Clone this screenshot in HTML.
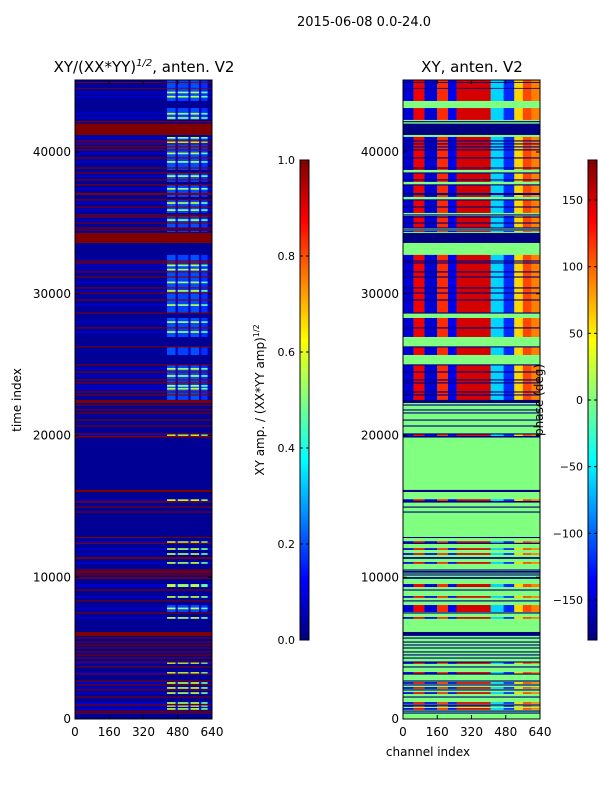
<!DOCTYPE html>
<html><head><meta charset="utf-8">
<style>
html,body{margin:0;padding:0;background:#fff;}
svg{display:block;font-family:"DejaVu Sans","Liberation Sans",sans-serif;}
</style></head>
<body>
<svg id="fig" width="600" height="800" viewBox="0 0 600 800">
  <text x="364" y="26" font-size="13" text-anchor="middle">2015-06-08 0.0-24.0</text>
  <text x="144" y="72" font-size="15" text-anchor="middle">XY/(XX*YY)<tspan dy="-6" font-size="10" font-style="italic">1/2</tspan><tspan dy="6">, anten. V2</tspan></text>
  <text x="472" y="72" font-size="15" text-anchor="middle">XY, anten. V2</text>
  <text transform="translate(21,400) rotate(-90)" font-size="12" text-anchor="middle">time index</text>
  <text x="428" y="756" font-size="12" text-anchor="middle">channel index</text>
  <text transform="translate(264,400) rotate(-90)" font-size="12" text-anchor="middle">XY amp. / (XX*YY amp)<tspan dy="-5" font-size="8">1/2</tspan></text>
  <g id="leftPanel"></g>
  <g id="rightPanel"></g>
  <g id="axes"></g>
  <g id="cbars"></g>
  <text transform="translate(543,400) rotate(-90)" font-size="12" text-anchor="middle">phase (deg)</text>
</svg>
<script>
// ---- data ----
const xTicks = [0, 160, 320, 480, 640];
const yTicks = [0, 10000, 20000, 30000, 40000];
const ampTicks = [0.0, 0.2, 0.4, 0.6, 0.8, 1.0];
const phaseTicks = [-150, -100, -50, 0, 50, 100, 150];
// row bands [startTime, endTime, type]  F=flagged, Q=quiet, d=data(dim), D=data(bright)
const rowBands = [
  [42260,45080,'d'],[43100,43600,'Q'],[44880,44940,'F'],[44470,44520,'F'],
  [42180,42260,'Q'],[42100,42180,'F'],[41200,42000,'F'],[41060,41200,'Q'],
  [34360,41060,'d'],[38520,38730,'Q'],[37680,37890,'Q'],[36620,36830,'Q'],[35490,35700,'Q'],[34430,34640,'Q'],
  [36970,37110,'F'],[34290,34360,'Q'],[33580,34290,'F'],[32740,33580,'Q'],
  [22290,32740,'d'],[28290,28640,'Q'],[26250,26950,'Q'],[24980,25680,'Q'],
  [22290,22510,'F'],[19900,22290,'Q'],[19850,19970,'F'],[16160,19850,'Q'],
  [16010,16160,'F'],[15500,16010,'Q'],[15260,15380,'F'],[12840,15260,'Q'],
  [12760,12840,'F'],[6980,12760,'Q'],[9310,9520,'D'],[7550,8040,'d'],
  [11300,11420,'F'],[9890,10010,'F'],[6140,6980,'Q'],[5860,6140,'F'],[0,5860,'Q']
];
const flagLines = [40780,40570,40360,40150,39580,38870,38520,38030,37680,36620,36120,35560,35410,34990,34640,34500,
  32310,32170,31540,31180,30410,30050,29560,28640,27590,26250,24980,24480,23920,23710,23070,22860,
  22150,21800,21590,21090,20670,20110,14950,14600,12390,10510,10400,10300,10160,9100,8330,7480,
  5710,5430,5220,5010,4730,4520,4300,4020,3670,3170,2680,2400,2050,1550,990,560,420];
const dataLines = [44200,43900,42700,42400,41000,40700,39900,39300,38300,37400,36400,35900,35200,
  32000,31700,30800,30200,29200,28000,27300,24700,24200,23500,23300,20030,15440,
  12480,11990,11640,11010,8610,7800,7130,3950,3250,2540,2190,1830,1130,920,710];
// channel segments [startChannel, endChannel]
const ampSegStart = [0, 420, 430, 470, 480, 530, 540, 580, 590, 620];
const ampSegEnd   = [420, 430, 470, 480, 530, 540, 580, 590, 620, 640];
const ampSegValue = [0.06, 0.08, 0.45, 0.12, 0.42, 0.12, 0.45, 0.12, 0.38, 0.08];
const phaseSegStart = [0, 50, 100, 160, 210, 250, 410, 470, 520, 560, 600];
const phaseSegEnd   = [50, 100, 160, 210, 250, 410, 470, 520, 560, 600, 640];
const phaseSegValue = [-150, 140, -150, 120, -140, 150, -60, -120, 60, 110, 90];

// ---- helpers ----
const NS = 'http://www.w3.org/2000/svg';
const T_MAX = 45080;
const plotTop = 80, plotBottom = 719;
const ty = t => plotBottom - t * (plotBottom - 152) / 40000;
const leftX0 = 75, rightX0 = 403, plotW = 137;
const cxL = c => leftX0 + c / 640 * plotW;
const cxR = c => rightX0 + c / 640 * plotW;
function jet(v){
  v = Math.max(0, Math.min(1, v));
  const cl = x => Math.round(255 * Math.max(0, Math.min(1, x)));
  return `rgb(${cl(1.5-Math.abs(4*v-3))},${cl(1.5-Math.abs(4*v-2))},${cl(1.5-Math.abs(4*v-1))})`;
}
const pv = p => (p + 180) / 360;
function mk(tag, attrs, parent){
  const e = document.createElementNS(NS, tag);
  for (const k in attrs) e.setAttribute(k, attrs[k]);
  parent.appendChild(e);
  return e;
}
const L = document.getElementById('leftPanel');
const R = document.getElementById('rightPanel');

let bgL = mk('rect', {x:leftX0, y:ty(T_MAX), width:plotW, height:ty(0)-ty(T_MAX), fill:jet(0.02)}, L);


let bgR = mk('rect', {x:rightX0, y:ty(T_MAX), width:plotW, height:ty(0)-ty(T_MAX), fill:jet(0.5)}, R);



function drawBand(t0, t1, type){
  const y = ty(t1), h = Math.max(0.8, ty(t0) - ty(t1));
  if (type === 'F' || type === 'Q'){
    const a = mk('rect', {x:leftX0, y:y, width:plotW, height:h, fill: type==='F'?jet(1):jet(0.02)}, L);
    
    
    const b = mk('rect', {x:rightX0, y:y, width:plotW, height:h, fill: type==='F'?jet(0):jet(0.5)}, R);
    
    
  } else {
    const level = type === 'D' ? 1.25 : 0.45;
    for (let i = 0; i < ampSegStart.length; i++){
      const c = mk('rect', {x:cxL(ampSegStart[i]), y:y, width:cxL(ampSegEnd[i])-cxL(ampSegStart[i]), height:h, fill:jet(ampSegValue[i]*level)}, L);
      
      
    }
    for (let i = 0; i < phaseSegStart.length; i++){
      const c = mk('rect', {x:cxR(phaseSegStart[i]), y:y, width:cxR(phaseSegEnd[i])-cxR(phaseSegStart[i]), height:h, fill:jet(pv(phaseSegValue[i]))}, R);
      
      
    }
  }
}
rowBands.forEach(b => drawBand(b[0], b[1], b[2]));
dataLines.forEach(t => drawBand(t-60, t+60, 'D'));
flagLines.forEach(t => drawBand(t-40, t+40, 'F'));

// axes
const A = document.getElementById('axes');
[leftX0, rightX0].forEach((x0, pi) => {
  const fr = mk('rect', {x:x0, y:plotTop, width:plotW, height:plotBottom-plotTop, fill:'none', stroke:'#000', 'stroke-width':1}, A);
  
  
  xTicks.forEach(v => {
    const x = x0 + v/640*plotW;
    mk('line', {x1:x, x2:x, y1:plotBottom, y2:plotBottom-4, stroke:'#000'}, A);
    mk('line', {x1:x, x2:x, y1:plotTop, y2:plotTop+4, stroke:'#000'}, A);
    const tl = mk('text', {x:x, y:plotBottom+17, 'font-size':12, 'text-anchor':'middle'}, A);
    tl.textContent = v;
    
    
  });
  yTicks.forEach(v => {
    const y = ty(v);
    mk('line', {x1:x0, x2:x0+4, y1:y, y2:y, stroke:'#000'}, A);
    mk('line', {x1:x0+plotW, x2:x0+plotW-4, y1:y, y2:y, stroke:'#000'}, A);
    const tl = mk('text', {x:x0-4, y:y+4, 'font-size':12, 'text-anchor':'end'}, A);
    tl.textContent = v;
    
    
  });
});

// colorbars
const C = document.getElementById('cbars');
const defs = mk('defs', {}, C);
const grad = mk('linearGradient', {id:'jetg', x1:0, y1:1, x2:0, y2:0}, defs);
for (let i = 0; i <= 16; i++) mk('stop', {offset:i/16, 'stop-color':jet(i/16)}, grad);
const cbTop = 160, cbBot = 640, cbW = 9;
function colorbar(x, ticks, lo, hi, fmt, name){
  const r = mk('rect', {x:x, y:cbTop, width:cbW, height:cbBot-cbTop, fill:'url(#jetg)', stroke:'#000', 'stroke-width':1}, C);
  
  
  ticks.forEach(v => {
    const y = cbBot - (v-lo)/(hi-lo)*(cbBot-cbTop);
    mk('line', {x1:x, x2:x+3, y1:y, y2:y, stroke:'#000'}, C);
    mk('line', {x1:x+cbW, x2:x+cbW-3, y1:y, y2:y, stroke:'#000'}, C);
    const tl = mk('text', {x:x-5, y:y+4, 'font-size':11, 'text-anchor':'end'}, C);
    tl.textContent = fmt(v);
    
    
  });
}
colorbar(300, ampTicks, 0, 1, v => v.toFixed(1), 'amplitude-colorbar');
colorbar(588, phaseTicks, -180, 180, v => v < 0 ? '\u2212' + (-v) : String(v), 'phase-colorbar');
</script>
</body></html>
